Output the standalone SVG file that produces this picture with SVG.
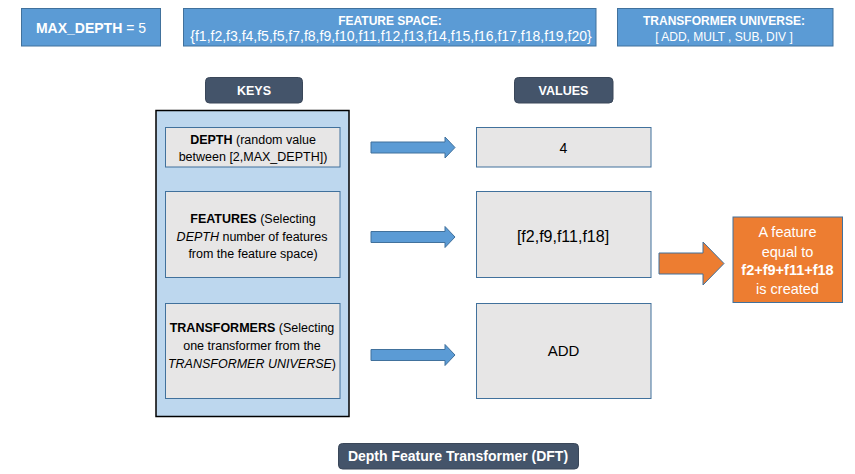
<svg xmlns="http://www.w3.org/2000/svg" width="855" height="474" viewBox="0 0 855 474">
<defs>
<style>
text{font-family:"Liberation Sans",Arial,sans-serif;text-anchor:middle}
.top{fill:#5B9BD5;stroke:#41719C;stroke-width:1}
.tw{fill:#fff}
.lbl{fill:#44546A;stroke:#3A4759;stroke-width:1}
.inner{fill:#E7E6E6;stroke:#41719C;stroke-width:1}
.k{font-size:12.5px;fill:#000}
.b{font-weight:bold}
.i{font-style:italic}
.arr{fill:#5B9BD5;stroke:#41719C;stroke-width:1}
</style>
<path id="ar" d="M0,-5.5 H74 V-10.5 L84,0 L74,10.5 V5.5 H0 Z"/>
</defs>
<rect width="855" height="474" fill="#fff"/>

<g id="maxdepth">
<rect class="top" x="21.5" y="8.5" width="139" height="37.5"/>
<text x="91" y="33" font-size="14" class="tw"><tspan class="b">MAX_DEPTH</tspan> = 5</text>
</g>
<g id="featurespace">
<rect class="top" x="183.5" y="8.5" width="412.5" height="37.5"/>
<text x="390" y="24.5" font-size="12" class="tw b">FEATURE SPACE:</text>
<text x="391" y="41" font-size="14" class="tw">{f1,f2,f3,f4,f5,f5,f7,f8,f9,f10,f11,f12,f13,f14,f15,f16,f17,f18,f19,f20}</text>
</g>
<g id="universe">
<rect class="top" x="617.5" y="8.5" width="215.5" height="37.5"/>
<text x="724" y="24.5" font-size="12" class="tw b">TRANSFORMER UNIVERSE:</text>
<text x="724" y="40.5" font-size="12" class="tw">[ ADD, MULT , SUB, DIV ]</text>
</g>

<g id="keys-label">
<rect class="lbl" x="205.5" y="77.5" width="97" height="25.5" rx="4"/>
<text x="254" y="94.5" font-size="12.5" class="tw b">KEYS</text>
</g>
<g id="values-label">
<rect class="lbl" x="514.5" y="77.5" width="98.5" height="25.5" rx="4"/>
<text x="563.5" y="94.5" font-size="12.5" class="tw b">VALUES</text>
</g>

<g id="keys">
<rect x="156" y="110.5" width="193" height="306" fill="#BDD7EE" stroke="#000" stroke-width="1.5"/>
<g id="key-depth">
<rect class="inner" x="165.5" y="127.5" width="174.5" height="39.5"/>
<text class="k" x="253" y="143.5"><tspan class="b">DEPTH</tspan> (random value</text>
<text class="k" x="253" y="160.5">between [2,MAX_DEPTH])</text>
</g>
<g id="key-features">
<rect class="inner" x="165.5" y="191.5" width="174.5" height="86"/>
<text class="k" x="253" y="222.5"><tspan class="b">FEATURES</tspan> (Selecting</text>
<text class="k" x="252" y="240.5"><tspan class="i">DEPTH</tspan> number of features</text>
<text class="k" x="253" y="257.5">from the feature space)</text>
</g>
<g id="key-transformers">
<rect class="inner" x="165.5" y="303.5" width="174.5" height="95"/>
<text class="k" x="252" y="331.5"><tspan class="b">TRANSFORMERS</tspan> (Selecting</text>
<text class="k" x="252" y="349.5">one transformer from the</text>
<text class="k" x="252" y="367.5"><tspan class="i">TRANSFORMER UNIVERSE</tspan>)</text>
</g>
</g>

<g id="val-depth">
<rect class="inner" x="476.5" y="127.5" width="174.5" height="39.5"/>
<text x="563.5" y="153" font-size="14">4</text>
</g>
<g id="val-features">
<rect class="inner" x="476.5" y="191.5" width="174.5" height="86"/>
<text x="563" y="241.5" font-size="16">[f2,f9,f11,f18]</text>
</g>
<g id="val-transformer">
<rect class="inner" x="476.5" y="303.5" width="174.5" height="95"/>
<text x="563.5" y="356" font-size="15">ADD</text>
</g>

<g id="result">
<rect x="733" y="217" width="109.5" height="85.5" fill="#ED7D31" stroke="#41719C" stroke-width="1"/>
<text x="787.5" y="237" font-size="14.5" class="tw">A feature</text>
<text x="787.5" y="257" font-size="14.5" class="tw">equal to</text>
<text x="787.5" y="275" font-size="14.5" class="tw b">f2+f9+f11+f18</text>
<text x="787.5" y="294" font-size="14.5" class="tw">is created</text>
</g>

<g id="connectors">
<use href="#ar" class="arr" x="371" y="147.5"/>
<use href="#ar" class="arr" x="371" y="237"/>
<use href="#ar" class="arr" x="371" y="355"/>
<path d="M659,253 H703 V242 L724,263.5 L703,285 V274 H659 Z" fill="#ED7D31" stroke="#41719C" stroke-width="1"/>
</g>

<g id="dft-label">
<rect class="lbl" x="338.5" y="443.5" width="240" height="25.5" rx="4"/>
<text x="458" y="461" font-size="14" class="tw b">Depth Feature Transformer (DFT)</text>
</g>
</svg>
